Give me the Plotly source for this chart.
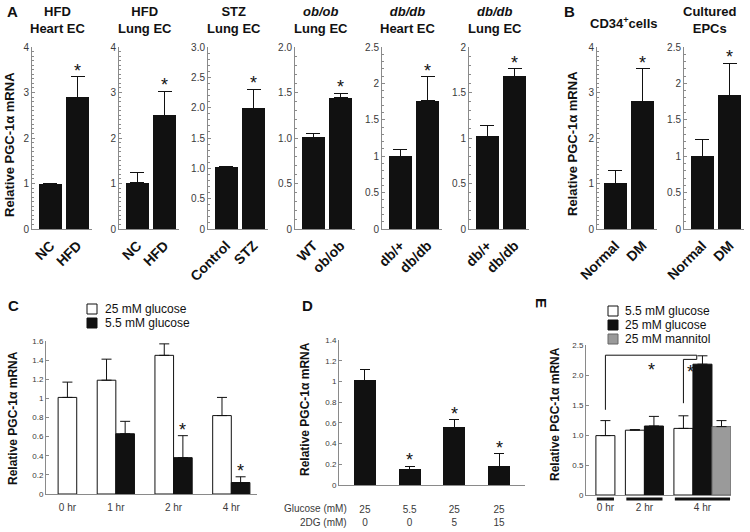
import plotly.graph_objects as go

W, H = 750, 532
FONT = "Liberation Sans, Arial, sans-serif"
INK = "#111111"
TICKC = "#3a3a3a"
LINE = "#8a8a8a"
MANNITOL = "#9a9a9a"
YTITLE = "Relative PGC-1α mRNA"

# ── data: panels A and B (two-bar comparisons) ───────────────────────────────
ab_titles = [
    "HFD<br>Heart EC", "HFD<br>Lung EC", "STZ<br>Lung EC",
    "<i>ob/ob</i><br>Lung EC", "<i>db/db</i><br>Heart EC", "<i>db/db</i><br>Lung EC",
    "CD34<sup>+</sup>cells", "Cultured<br>EPCs",
]
ab_groups = [
    ["NC", "HFD"], ["NC", "HFD"], ["Control", "STZ"], ["WT", "ob/ob"],
    ["db/+", "db/db"], ["db/+", "db/db"], ["Normal", "DM"], ["Normal", "DM"],
]
ab_means = [
    [1.00, 2.90], [1.02, 2.50], [1.02, 1.99], [1.01, 1.44],
    [1.00, 1.76], [1.02, 1.68], [1.01, 2.81], [1.00, 1.84],
]
ab_errs = [
    [0.01, 0.45], [0.23, 0.53], [0.01, 0.31], [0.04, 0.05],
    [0.09, 0.33], [0.12, 0.08], [0.28, 0.71], [0.23, 0.44],
]
ab_stars = [[0, 1]] * 8

# ── data: panel C ────────────────────────────────────────────────────────────
c_times = ["0 hr", "1 hr", "2 hr", "4 hr"]
c_high = [1.01, 1.19, 1.45, 0.82]          # 25 mM glucose
c_high_err = [0.16, 0.22, 0.12, 0.19]
c_low = [None, 0.63, 0.38, 0.12]           # 5.5 mM glucose
c_low_err = [None, 0.13, 0.23, 0.06]
c_low_stars = [0, 0, 1, 1]

# ── data: panel D ────────────────────────────────────────────────────────────
d_glucose = ["25", "5.5", "25", "25"]
d_2dg = ["0", "0", "5", "15"]
d_means = [1.01, 0.15, 0.56, 0.18]
d_errs = [0.11, 0.03, 0.07, 0.12]
d_stars = [0, 1, 1, 1]

# ── data: panel E ────────────────────────────────────────────────────────────
e_times = ["0 hr", "2 hr", "4 hr"]
e_low = [0.99, 1.08, 1.11]                 # 5.5 mM glucose
e_low_err = [0.25, 0.01, 0.21]
e_high = [None, 1.15, 2.18]                # 25 mM glucose
e_high_err = [None, 0.16, 0.14]
e_mannitol = [None, None, 1.14]            # 25 mM mannitol
e_mannitol_err = [None, None, 0.10]


# ── helpers ──────────────────────────────────────────────────────────────────
def px_x(px):
    return px / W


def px_y(py):
    return 1 - py / H


def refs(n):
    s = "" if n == 1 else str(n)
    return "x" + s, "y" + s, "xaxis" + s, "yaxis" + s


def slot_positions(series, gap):
    """Adjacent bars inside a group, `gap` bar-widths between groups."""
    groups, cursor = [], 0.0
    for g in range(len(series[0])):
        k = sum(s[g] is not None for s in series)
        groups.append([cursor + i for i in range(k)])
        cursor += k + gap
    return groups


def up_err(errs, width):
    return dict(type="data", symmetric=False, array=errs, arrayminus=[0] * len(errs),
                color=INK, thickness=1, width=width)


fig = go.Figure()
layout = {}
ann = []
shapes = []


def text(x, y, s, size, bold=False, color=INK, **kw):
    d = dict(x=px_x(x), y=px_y(y), xref="paper", yref="paper", text=s, showarrow=False,
             xanchor="center", yanchor="middle",
             font=dict(family=FONT, size=size, color=color, weight="bold" if bold else "normal"))
    d.update(kw)
    ann.append(d)


def axes(n, x0, x1, ytop, ybot, xopts, yopts):
    xr, yr, xk, yk = refs(n)
    xa = dict(domain=[px_x(x0), px_x(x1)], anchor=yr, showline=True, linecolor=LINE,
              linewidth=1, ticks="", ticklen=0, showgrid=False, zeroline=False,
              automargin=False, tickfont=dict(family=FONT, size=10, color=TICKC))
    ya = dict(domain=[px_y(ybot), px_y(ytop)], anchor=xr, showline=True, linecolor=LINE,
              linewidth=1, ticks="inside", ticklen=3, tickcolor=LINE, showgrid=False,
              zeroline=False, automargin=False, tickfont=dict(family=FONT, size=8, color=TICKC))
    xa.update(xopts)
    ya.update(yopts)
    layout[xk] = xa
    layout[yk] = ya
    return xr, yr


def star(xr, yr, x, y, yshift=-6):
    ann.append(dict(x=x, y=y, xref=xr, yref=yr, text="*", showarrow=False,
                    yanchor="bottom", yshift=yshift,
                    font=dict(family=FONT, size=18, color=INK)))


# ── panels A and B ───────────────────────────────────────────────────────────
ab_boxes = [(32, 92), (119, 179), (208, 268), (295, 355), (382, 442), (469, 529),
            (597, 657), (684, 744)]
ab_ymax = [4, 4, 3, 2, 2.5, 2, 4, 2.5]
ab_dtick = [1, 1, 0.5, 0.5, 0.5, 0.5, 1, 0.5]
ab_one_decimal = [False, False, True, True, False, False, False, False]

for i in range(8):
    x0, x1 = ab_boxes[i]
    vals = [round(k * ab_dtick[i], 2) for k in range(int(ab_ymax[i] / ab_dtick[i]) + 1)]
    labels = ["0" if v == 0 else (f"{v:.1f}" if ab_one_decimal[i] else f"{v:g}") for v in vals]
    xr, yr = axes(
        i + 1, x0, x1, 47, 229,
        dict(type="category", range=[-0.675, 1.53], tickangle=-45, ticklabelstandoff=2,
             tickfont=dict(family=FONT, size=14, color=INK, weight="bold")),
        dict(range=[0, ab_ymax[i]], tickmode="array", tickvals=vals, ticktext=labels,
             tickfont=dict(family=FONT, size=10, color=TICKC),
             minor=dict(tickmode="linear", tick0=0, dtick=0.1, ticks="inside",
                        ticklen=2, tickcolor=LINE, showgrid=False)),
    )
    fig.add_trace(go.Bar(
        x=ab_groups[i], y=ab_means[i], width=0.84, xaxis=xr, yaxis=yr,
        marker=dict(color=INK, line=dict(width=0)),
        error_y=up_err(ab_errs[i], 7), showlegend=False, hoverinfo="skip",
    ))
    for j, flag in enumerate(ab_stars[i]):
        if flag:
            star(xr, yr, ab_groups[i][j], ab_means[i][j] + ab_errs[i][j])
    ty = 23 if "<br>" not in ab_titles[i] else 20
    text((x0 + x1) / 2 - 4, ty, ab_titles[i], 13, bold=True)

text(12, 12, "A", 15, bold=True)
text(569, 12, "B", 15, bold=True)
text(10, 145, YTITLE, 13, bold=True, textangle=-90)
text(572, 144, YTITLE, 13, bold=True, textangle=-90)

# ── panel C ──────────────────────────────────────────────────────────────────
c_slots = slot_positions([c_high, c_low], 1.1)
xr, yr = axes(
    9, 46, 257, 341, 494,
    dict(range=[c_slots[0][0] - 1.15, c_slots[-1][-1] + 0.88], tickmode="array",
         tickvals=[sum(g) / len(g) for g in c_slots], ticktext=c_times,
         ticklabelstandoff=4),
    dict(range=[0, 1.6], dtick=0.2),
)
for k, (vals, errs, fill) in enumerate([(c_high, c_high_err, "white"), (c_low, c_low_err, INK)]):
    idx = [g for g in range(len(vals)) if vals[g] is not None]
    fig.add_trace(go.Bar(
        x=[c_slots[g][k] for g in idx], y=[vals[g] for g in idx], width=1,
        xaxis=xr, yaxis=yr, marker=dict(color=fill, line=dict(color=INK, width=1)),
        error_y=up_err([errs[g] for g in idx], 5), showlegend=False, hoverinfo="skip",
    ))
for g, flag in enumerate(c_low_stars):
    if flag:
        star(xr, yr, c_slots[g][1], c_low[g] + c_low_err[g])

text(13, 305, "C", 15, bold=True)
text(13, 418, YTITLE, 12, bold=True, textangle=-90)
for row, (name, fill) in enumerate([("25 mM glucose", "white"), ("5.5 mM glucose", INK)]):
    cy = 309 + row * 14
    shapes.append(dict(type="rect", xref="paper", yref="paper", x0=px_x(87), x1=px_x(97),
                       y0=px_y(cy + 5), y1=px_y(cy - 5), fillcolor=fill,
                       line=dict(color=INK, width=1)))
    text(103, cy, name, 12, xanchor="left")

# ── panel D ──────────────────────────────────────────────────────────────────
d_x = list(range(len(d_means)))
xr, yr = axes(
    10, 339, 525, 340, 485,
    dict(range=[-0.58, len(d_x) - 0.42], tickmode="array", tickvals=d_x,
         ticktext=[f"{g}<br>{c}" for g, c in zip(d_glucose, d_2dg)],
         ticklabelstandoff=15),
    dict(range=[0, 1.4], dtick=0.2),
)
fig.add_trace(go.Bar(
    x=d_x, y=d_means, width=0.49, xaxis=xr, yaxis=yr,
    marker=dict(color=INK, line=dict(width=0)),
    error_y=up_err(d_errs, 5), showlegend=False, hoverinfo="skip",
))
for g, flag in enumerate(d_stars):
    if flag:
        star(xr, yr, d_x[g], d_means[g] + d_errs[g])

text(307, 305, "D", 15, bold=True)
text(305, 409, YTITLE, 12, bold=True, textangle=-90)
text(349, 508, "Glucose (mM)", 10, color=TICKC, xanchor="right")
text(349, 522, "2DG (mM)", 10, color=TICKC, xanchor="right")

# ── panel E ──────────────────────────────────────────────────────────────────
e_series = [e_low, e_high, e_mannitol]
e_slots = slot_positions(e_series, 0.55)
e_ticks = [f"{v:.1f}" if v else "0" for v in [0, 0.5, 1.0, 1.5, 2.0, 2.5]]
xr, yr = axes(
    11, 586, 731, 345, 495,
    dict(range=[e_slots[0][0] - 1.02, e_slots[-1][-1] + 0.5], tickmode="array",
         tickvals=[sum(g) / len(g) for g in e_slots], ticktext=e_times,
         ticklabelstandoff=3),
    dict(range=[0, 2.5], tickmode="array", tickvals=[0, 0.5, 1.0, 1.5, 2.0, 2.5],
         ticktext=e_ticks),
)
for k, (vals, errs, fill) in enumerate([(e_low, e_low_err, "white"),
                                        (e_high, e_high_err, INK),
                                        (e_mannitol, e_mannitol_err, MANNITOL)]):
    idx = [g for g in range(len(vals)) if vals[g] is not None]
    fig.add_trace(go.Bar(
        x=[e_slots[g][k] for g in idx], y=[vals[g] for g in idx], width=1,
        xaxis=xr, yaxis=yr,
        marker=dict(color=fill, line=dict(color=INK if fill != MANNITOL else "#666666", width=1)),
        error_y=up_err([errs[g] for g in idx], 5), showlegend=False, hoverinfo="skip",
    ))

# group underlines
for g in e_slots:
    shapes.append(dict(type="line", xref=xr, yref="paper", x0=g[0] - 0.45, x1=g[-1] + 0.45,
                       y0=px_y(499), y1=px_y(499), line=dict(color=INK, width=3)))

# significance brackets
xa_, xb_, xc_ = e_slots[0][0], e_slots[2][1] - 0.3, e_slots[2][0]
shapes.append(dict(type="path", xref=xr, yref=yr, line=dict(color=INK, width=1),
                   path=f"M{xa_},1.42 L{xa_},2.33 L{xb_},2.33 L{xb_},2.26"))
shapes.append(dict(type="path", xref=xr, yref=yr, line=dict(color=INK, width=1),
                   path=f"M{xc_},1.53 L{xc_},2.26 L{xb_},2.26"))
for x, y, ys in [((xa_ + xb_) / 2, 2.33, -3), ((xc_ + xb_) / 2, 2.26, -1)]:
    ann.append(dict(x=x, y=y, xref=xr, yref=yr, text="*", showarrow=False, yanchor="top",
                    yshift=ys, font=dict(family=FONT, size=18, color=INK)))

text(542, 303, "E", 15, bold=True, textangle=90)
text(555, 414, YTITLE, 12, bold=True, textangle=-90)
for row, (name, fill) in enumerate([("5.5 mM glucose", "white"), ("25 mM glucose", INK),
                                    ("25 mM mannitol", MANNITOL)]):
    cy = 311 + row * 14
    shapes.append(dict(type="rect", xref="paper", yref="paper", x0=px_x(608), x1=px_x(618),
                       y0=px_y(cy + 5), y1=px_y(cy - 5), fillcolor=fill,
                       line=dict(color=INK if fill != MANNITOL else "#666666", width=1)))
    text(623, cy, name, 12, xanchor="left")

fig.update_layout(
    width=W, height=H,
    margin=dict(l=0, r=0, t=0, b=0, autoexpand=False),
    paper_bgcolor="white", plot_bgcolor="white",
    font=dict(family=FONT, color=INK),
    bargap=0, showlegend=False,
    annotations=ann, shapes=shapes,
    **layout,
)

# the page's default 8px body margin would push the 750x532 figure off the window
fig.write_html("out.html", config={"displayModeBar": False, "staticPlot": True},
               post_script="document.body.style.margin = '0';")
